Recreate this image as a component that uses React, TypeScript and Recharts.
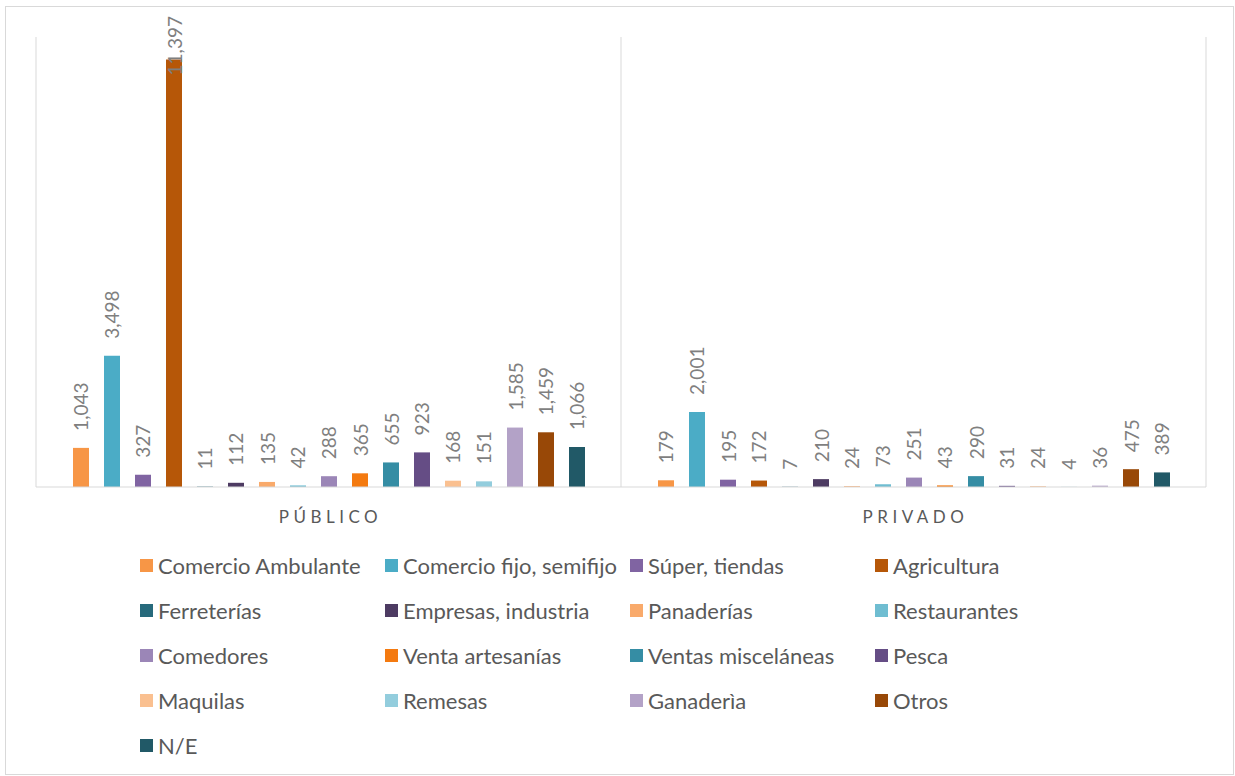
import React from "react";
import {
  BarChart,
  Bar,
  XAxis,
  YAxis,
  CartesianGrid,
  Legend,
  LabelList,
} from "recharts";

const categories = ["PÚBLICO", "PRIVADO"];

const seriesNames = [
  "Comercio Ambulante",
  "Comercio fijo, semifijo",
  "Súper, tiendas",
  "Agricultura",
  "Ferreterías",
  "Empresas, industria",
  "Panaderías",
  "Restaurantes",
  "Comedores",
  "Venta artesanías",
  "Ventas misceláneas",
  "Pesca",
  "Maquilas",
  "Remesas",
  "Ganaderìa",
  "Otros",
  "N/E",
];

const seriesColors = [
  "#F79646",
  "#4BACC6",
  "#8064A2",
  "#B65708",
  "#276A7C",
  "#4D3B62",
  "#F9AA6B",
  "#6FBDD1",
  "#9B86B7",
  "#F47A10",
  "#358DA4",
  "#654D85",
  "#FAC090",
  "#93CDDD",
  "#B3A2C7",
  "#984807",
  "#215967",
];

const publicoValues = [1043, 3498, 327, 11397, 11, 112, 135, 42, 288, 365, 655, 923, 168, 151, 1585, 1459, 1066];
const privadoValues = [179, 2001, 195, 172, 7, 210, 24, 73, 251, 43, 290, 31, 24, 4, 36, 475, 389];

const valuesByCategory = [publicoValues, privadoValues];

const rows = categories.map((name, ci) => {
  const row: Record<string, string | number> = { name };
  seriesNames.forEach((s, si) => {
    row[`s${si}`] = valuesByCategory[ci][si];
  });
  return row;
});

const FONT = "Lato, 'Noto Sans', sans-serif";

// value label rotated -90, kept inside the chart when it would run off the top
const ValueLabel = (props: any) => {
  const { x, y, width, value } = props;
  if (value === undefined || value === null) return null;
  const text = Number(value).toLocaleString("en-US");
  const cx = x + width / 2;
  const start = y - 17;
  const estLen = text.length * 10;
  const clamp = start - estLen < 14;
  const ay = clamp ? 16 : start;
  return (
    <text
      x={cx}
      y={ay}
      transform={`rotate(-90, ${cx}, ${ay})`}
      textAnchor={clamp ? "end" : "start"}
      dominantBaseline="central"
      fill="#7f7f7f"
      fontSize={19}
      fontFamily={FONT}
    >
      {text}
    </text>
  );
};

const CategoryTick = (props: any) => {
  const { x, y, payload } = props;
  return (
    <text
      x={x + 2}
      y={y + 34}
      textAnchor="middle"
      fill="#595959"
      fontSize={17}
      letterSpacing={4.5}
      fontFamily={FONT}
    >
      {payload.value}
    </text>
  );
};

// legend drawn from the series arrays so it keeps the original order
const renderLegend = () => (
  <div
    style={{
      display: "grid",
      gridTemplateColumns: "repeat(4, 245px)",
      gridAutoRows: "45px",
      fontFamily: FONT,
    }}
  >
    {seriesNames.map((s, si) => (
      <div key={s} style={{ display: "flex", alignItems: "center" }}>
        <span
          style={{
            width: 13,
            height: 13,
            background: seriesColors[si],
            marginRight: 5,
            flex: "none",
          }}
        />
        <span style={{ fontSize: 22, color: "#595959", whiteSpace: "nowrap" }}>{s}</span>
      </div>
    ))}
  </div>
);

export default function App() {
  return (
    <div style={{ position: "absolute", left: 0, top: 0, width: 1235, height: 776, background: "#fff" }}>
      <div
        style={{
          position: "absolute",
          left: 5,
          top: 6,
          width: 1227,
          height: 767,
          border: "1px solid #d9d9d9",
        }}
      />
      <div style={{ position: "absolute", left: 0, top: 0 }}>
        <BarChart
          width={1235}
          height={776}
          data={rows}
          margin={{ top: 37, right: 29, left: 36, bottom: 229 }}
          barSize={16}
          barGap={15}
        >
          <CartesianGrid
            horizontal={false}
            stroke="#d9d9d9"
            verticalCoordinatesGenerator={({ offset }: any) => [
              offset.left,
              offset.left + offset.width / 2,
              offset.left + offset.width,
            ]}
          />
          <XAxis
            dataKey="name"
            axisLine={{ stroke: "#d9d9d9" }}
            tickLine={false}
            tickSize={0}
            height={60}
            interval={0}
            tick={<CategoryTick />}
          />
          <YAxis hide domain={[0, 12000]} />
          <Legend
            layout="horizontal"
            verticalAlign="middle"
            align="center"
            wrapperStyle={{ top: 543, left: 140, width: 1000, height: 225 }}
            content={renderLegend}
          />
          {seriesNames.map((s, si) => (
            <Bar key={s} dataKey={`s${si}`} name={s} fill={seriesColors[si]} isAnimationActive={false}>
              <LabelList dataKey={`s${si}`} content={<ValueLabel />} />
            </Bar>
          ))}
        </BarChart>
      </div>
    </div>
  );
}
